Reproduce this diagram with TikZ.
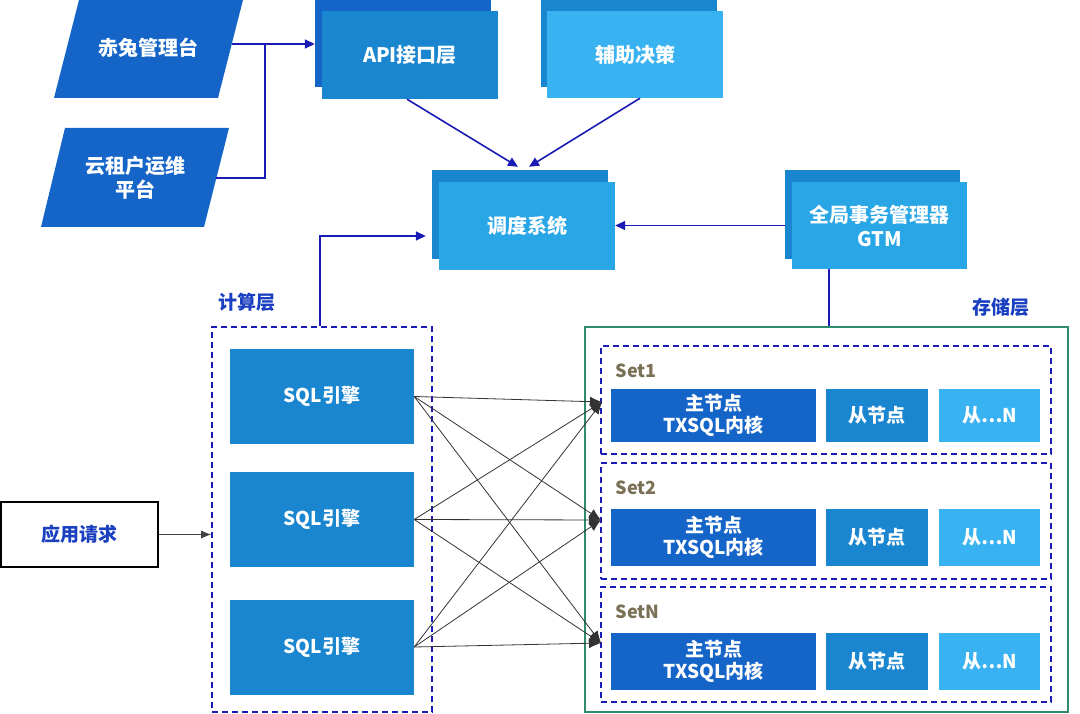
\documentclass[tikz,border=0pt]{standalone}
\usepackage{fontspec}
\setmainfont{Noto Sans CJK SC}
\usetikzlibrary{arrows.meta,calc}
\definecolor{cA}{HTML}{1565C8}
\definecolor{cB}{HTML}{1A86D0}
\definecolor{cC}{HTML}{29A6E6}
\definecolor{cD}{HTML}{38B2F0}
\definecolor{lnk}{HTML}{1A1AB4}
\definecolor{lbl}{HTML}{1A3FC0}
\definecolor{grn}{HTML}{2E8B6E}
\definecolor{setc}{HTML}{7A7055}
\begin{document}
\begin{tikzpicture}[x=1pt,y=-1pt,
  box/.style={inner sep=0pt,text=white,font=\fontsize{20}{24}\selectfont\bfseries,align=center},
  bigbox/.style={box,minimum width=176pt,minimum height=88pt},
  sqlbox/.style={box,fill=cB,minimum width=184pt,minimum height=95pt,font=\fontsize{19}{23}\selectfont\bfseries},
  nodebox/.style={box,font=\fontsize{19}{22}\selectfont\bfseries},
  blu/.style={draw=lnk,line width=1.6pt},
  btip/.style={-{Triangle[length=10pt,width=9pt]}},
  cross/.style={draw=black!80,line width=0.8pt,-{Latex[length=12pt,width=10pt]}},
  dbox/.style={draw=lnk,line width=1.6pt,dash pattern=on 6pt off 4pt,inner sep=0pt},
  layerlbl/.style={text=lbl,font=\fontsize{19}{22}\selectfont\bfseries},
  setlbl/.style={text=setc,font=\fontsize{18}{22}\selectfont\bfseries,anchor=west}
]
\useasboundingbox (0,0) rectangle (1080,714);

% parallelograms
\fill[cA] (79.5,-2) -- (243.5,-2) -- (218,98) -- (54,98) -- cycle;
\node[box] (p1) at (148.5,48) {赤兔管理台};
\coordinate (p1r) at (232,44);
\fill[cA] (65,128) -- (229,128) -- (204,227) -- (41,227) -- cycle;
\node[box] (p2) at (135,178) {云租户运维\\平台};
\coordinate (p2r) at (216,178);
\coordinate (jn) at (265,44);

% API layer
\node[bigbox,fill=cA,minimum height=97pt] (apib) at (403,38.5) {};
\node[bigbox,fill=cB] (apif) at (410,55) {API接口层};
% decision
\node[bigbox,fill=cB,minimum height=97pt] (auxb) at (628.5,38.5) {};
\node[bigbox,fill=cD,minimum height=87pt] (auxf) at (635,54.5) {辅助决策};
% scheduler
\node[bigbox,fill=cB,minimum height=89pt] (ddb) at (520,214.5) {};
\node[bigbox,fill=cC] (ddf) at (527,226) {调度系统};
% GTM
\node[bigbox,fill=cB,minimum width=175pt,minimum height=89pt] (gtmb) at (872.5,214.5) {};
\node[bigbox,fill=cC,minimum width=175pt,minimum height=87pt] (gtmf) at (879.5,225.5) {全局事务管理器\\GTM};

% top connectors
\draw[blu,btip] (p1r) -- (p1r -| apib.west);
\draw[blu] (p2r) -| (jn);
\draw[blu,btip] ([xshift=-3pt]apif.south) -- ($(ddb.north)+(-2,-3)$);
\draw[blu,btip] ([xshift=5pt]auxf.south) -- ($(ddb.north)+(9,-3)$);
\draw[blu,btip] (gtmf.west -| gtmb.west) -- (ddf.east |- gtmf.west);

% compute layer
\node[layerlbl] (clbl) at (247,302) {计算层};
\node[dbox,minimum width=220pt,minimum height=385pt] (comp) at (322,519.5) {};
\node[sqlbox] (s1) at (322,396.5) {SQL引擎};
\node[sqlbox] (s2) at (322,519.5) {SQL引擎};
\node[sqlbox] (s3) at (322,647) {SQL引擎};
\coordinate (c236) at (0,236);
\draw[blu,btip] ([xshift=-2pt]comp.north) |- ([xshift=-6pt]ddb.west |- c236);

% app request
\node[draw=black,line width=1.8pt,minimum width=157pt,minimum height=65pt,inner sep=0pt,text=lbl,font=\fontsize{19}{22}\selectfont\bfseries] (app) at (79.5,534.5) {应用请求};
\draw[draw=black!75,line width=0.9pt,-{Latex[length=10pt,width=8pt]}] (app.east) -- (comp.west |- app.east);

% storage layer
\node[layerlbl] (slbl) at (1001,307) {存储层};
\node[draw=grn,line width=1.5pt,minimum width=483pt,minimum height=385pt,inner sep=0pt] (stor) at (826.5,519.5) {};
\draw[blu] ([xshift=-50.5pt]gtmf.south) -- ([xshift=-50.5pt]gtmf.south |- stor.north);

\node[dbox,minimum width=450pt,minimum height=108pt] (set1) at (826,400) {};
\node[dbox,minimum width=450pt,minimum height=116pt] (set2) at (826,521) {};
\node[dbox,minimum width=450pt,minimum height=115pt] (set3) at (826,644.5) {};
\node[setlbl] (l1) at (612,371) {Set1};
\node[setlbl] (l2) at (612,488) {Set2};
\node[setlbl] (l3) at (612,612) {SetN};

\node[nodebox,fill=cA,minimum width=205pt,minimum height=53pt] (m1) at (713.5,415.5) {主节点\\TXSQL内核};
\node[nodebox,fill=cB,minimum width=102pt,minimum height=53pt] (r1) at (877,415.5) {从节点};
\node[nodebox,fill=cD,minimum width=101pt,minimum height=53pt] (n1) at (989.5,415.5) {从…N};
\node[nodebox,fill=cA,minimum width=205pt,minimum height=57pt] (m2) at (713.5,537.5) {主节点\\TXSQL内核};
\node[nodebox,fill=cB,minimum width=102pt,minimum height=57pt] (r2) at (877,537.5) {从节点};
\node[nodebox,fill=cD,minimum width=101pt,minimum height=57pt] (n2) at (989.5,537.5) {从…N};
\node[nodebox,fill=cA,minimum width=205pt,minimum height=57pt] (m3) at (713.5,661.5) {主节点\\TXSQL内核};
\node[nodebox,fill=cB,minimum width=102pt,minimum height=57pt] (r3) at (877,661.5) {从节点};
\node[nodebox,fill=cD,minimum width=101pt,minimum height=57pt] (n3) at (989.5,661.5) {从…N};

% cross connections
\coordinate (t1) at (602,402);
\coordinate (t2) at (601,520);
\coordinate (t3) at (601,643);
\foreach \s in {s1,s2,s3}{
  \foreach \t in {t1,t2,t3}{
    \draw[cross] (\s.east) -- (\t);
  }
}
\end{tikzpicture}
\end{document}
